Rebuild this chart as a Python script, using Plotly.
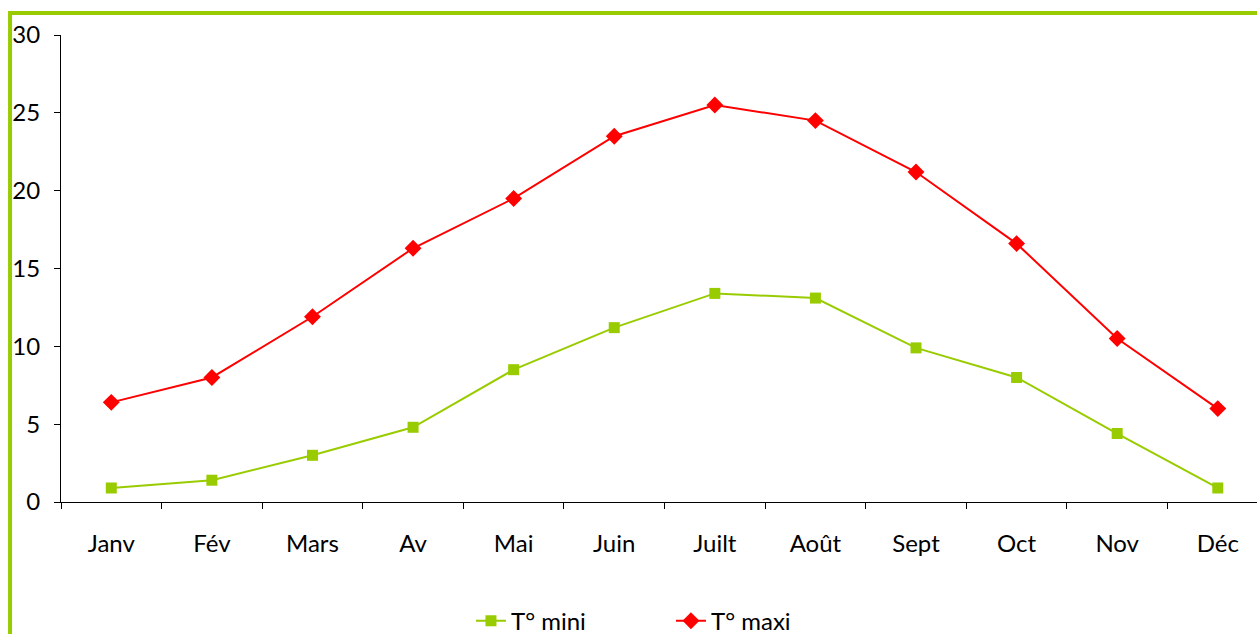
import plotly.graph_objects as go

months = ["Janv", "Fév", "Mars", "Av", "Mai", "Juin", "Juilt", "Août", "Sept", "Oct", "Nov", "Déc"]
t_mini = [0.9, 1.4, 3.0, 4.8, 8.5, 11.2, 13.4, 13.1, 9.9, 8.0, 4.4, 0.9]
t_maxi = [6.4, 8.0, 11.9, 16.3, 19.5, 23.5, 25.5, 24.5, 21.2, 16.6, 10.5, 6.0]
y_ticks = [0, 5, 10, 15, 20, 25, 30]

GREEN = "#99CC00"
RED = "#FF0000"
FONT = "Lato"
FS = 24

fig = go.Figure()
fig.add_trace(go.Scatter(
    x=months, y=t_mini, name="T° mini", mode="lines+markers",
    line=dict(color=GREEN, width=2),
    marker=dict(symbol="square", size=11, color=GREEN),
))
fig.add_trace(go.Scatter(
    x=months, y=t_maxi, name="T° maxi", mode="lines+markers",
    line=dict(color=RED, width=2),
    marker=dict(symbol="diamond", size=13, color=RED),
))

fig.update_layout(
    width=1257, height=634,
    margin=dict(l=61, r=0, t=35, b=132, autoexpand=False),
    plot_bgcolor="white", paper_bgcolor="white",
    font=dict(family=FONT, size=FS, color="black"),
    showlegend=True,
    legend=dict(orientation="h", x=0.51, xanchor="center", y=-0.255, yanchor="middle",
                font=dict(family=FONT, size=FS, color="black"),
                entrywidth=155, entrywidthmode="pixels",
                bgcolor="rgba(0,0,0,0)"),
    shapes=[dict(type="rect", xref="paper", yref="paper",
                 x0=-0.0426, x1=1.1, y0=-0.6, y1=1.0471,
                 line=dict(color=GREEN, width=4), layer="below")],
)
fig.update_xaxes(
    type="category", range=[-0.5, 11.39], automargin=False,
    showline=True, linecolor="black", linewidth=1,
    showgrid=False, zeroline=False,
    ticks="outside", ticklen=6, tickcolor="black", tickwidth=1,
    tickson="boundaries", ticklabelstandoff=20,
    tickfont=dict(family=FONT, size=FS, color="black"),
)
fig.update_yaxes(
    range=[0, 30], tickvals=y_ticks, automargin=False,
    showline=True, linecolor="black", linewidth=1,
    showgrid=False, zeroline=False,
    ticks="outside", ticklen=6, tickcolor="black", tickwidth=1,
    ticklabelstandoff=9,
    tickfont=dict(family=FONT, size=FS, color="black"),
)

fig.write_html(
    "out.html",
    config={"displayModeBar": False},
    post_script="document.body.style.margin='0';document.body.style.overflow='hidden';",
)
